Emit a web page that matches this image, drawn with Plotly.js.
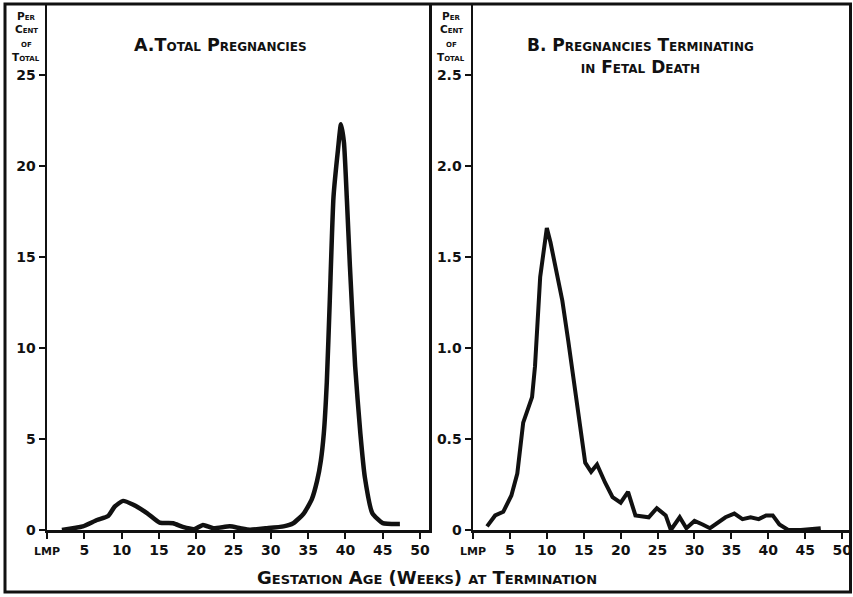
<!DOCTYPE html>
<html>
<head>
<meta charset="utf-8">
<script src="https://cdn.plot.ly/plotly-3.0.1.min.js"></script>
<style>html,body{margin:0;padding:0;background:#fff;}#chart{width:853px;height:597px;}</style>
</head>
<body>
<div id="chart"></div>
<script>
// Panel A: total pregnancies (per cent of total) by gestation week
var weeksA = [2, 4.8, 6.7, 8.2, 9.1, 10.2, 11.5, 13.4, 15.1, 16.9, 18.2, 19.8, 20.9, 22.3, 24.5, 25.9, 27.2, 29.5, 31.7, 33, 34.4, 35.5, 36.2, 36.7, 37.1, 37.5, 37.9, 38.4, 39, 39.4, 39.8, 40.2, 40.6, 41.3, 42, 42.6, 43.6, 45, 47.3];
var pctA = [0, 0.2, 0.55, 0.77, 1.3, 1.6, 1.4, 0.93, 0.4, 0.37, 0.17, 0.05, 0.28, 0.1, 0.2, 0.1, 0.02, 0.1, 0.2, 0.37, 0.9, 1.7, 2.7, 3.8, 5.3, 8.1, 12.6, 18.3, 20.9, 22.3, 21.3, 18.1, 14.5, 9.0, 5.3, 2.9, 0.93, 0.38, 0.33];

// Panel B: pregnancies terminating in fetal death
var weeksB = [1.9, 3.0, 4.1, 5.2, 6.0, 6.8, 8.0, 8.4, 9.1, 9.5, 10.0, 10.5, 11.4, 12.1, 12.9, 13.9, 14.8, 15.2, 16.0, 16.8, 17.9, 18.9, 20.0, 21.0, 22.0, 23.8, 24.9, 26.1, 26.8, 28.0, 28.9, 30.0, 31.1, 32.1, 34.2, 35.4, 36.5, 37.6, 38.7, 39.7, 40.6, 41.5, 42.7, 44.4, 47.1];
var pctB = [0.02, 0.08, 0.10, 0.19, 0.31, 0.59, 0.73, 0.90, 1.39, 1.52, 1.66, 1.58, 1.41, 1.26, 1.04, 0.75, 0.46, 0.37, 0.32, 0.36, 0.26, 0.18, 0.15, 0.21, 0.08, 0.07, 0.12, 0.08, 0.0, 0.07, 0.01, 0.05, 0.03, 0.01, 0.07, 0.09, 0.06, 0.07, 0.06, 0.08, 0.08, 0.03, 0.0, 0.0, 0.01];

// Tick values and labels
var xTickVals = [0, 5, 10, 15, 20, 25, 30, 35, 40, 45, 50];
var xTickLabels = ['LMP', '5', '10', '15', '20', '25', '30', '35', '40', '45', '50'];
var yTickValsA = [0, 5, 10, 15, 20, 25];
var yTickLabelsA = ['0', '5', '10', '15', '20', '25'];
var yTickValsB = [0, 0.5, 1.0, 1.5, 2.0, 2.5];
var yTickLabelsB = ['0', '0.5', '1.0', '1.5', '2.0', '2.5'];

var titleA = 'A.Total Pregnancies';
var titleB = 'B. Pregnancies Terminating<br>in Fetal Death';
var yLabelLines = ['Per', 'Cent', 'of', 'Total'];
var xLabel = 'Gestation Age (Weeks) at Termination';

var INK = '#111111';
var FONT = 'DejaVu Sans, sans-serif';

function fmtX(t) { return t === 'LMP' ? '<span style="font-size:11px">LMP</span>' : t; }

var traces = [
  {x: weeksA, y: pctA, xaxis: 'x', yaxis: 'y', mode: 'lines',
   line: {color: INK, width: 4.5, shape: 'spline', smoothing: 0.5}, hoverinfo: 'skip'},
  {x: weeksB, y: pctB, xaxis: 'x2', yaxis: 'y2', mode: 'lines',
   line: {color: INK, width: 4}, hoverinfo: 'skip'}
];

var tickFont = {family: FONT, size: 14, color: INK, weight: 'bold'};

function xAxis(domain, anchor) {
  return {domain: domain, anchor: anchor, range: [0, 51.2], showgrid: false, zeroline: false,
    showline: true, linecolor: INK, linewidth: 2.5, ticks: 'outside', ticklen: 6, tickwidth: 2,
    tickcolor: INK, tickmode: 'array', tickvals: xTickVals, ticktext: xTickLabels.map(fmtX),
    tickfont: tickFont, fixedrange: true};
}
function yAxis(anchor, range, vals, labels, mirror) {
  return {anchor: anchor, domain: [0, 1], range: range, showgrid: false, zeroline: false,
    showline: true, linecolor: INK, linewidth: 2.5, mirror: mirror, ticks: 'outside', ticklen: 6,
    tickwidth: 2, tickcolor: INK, tickmode: 'array', tickvals: vals, ticktext: labels,
    tickfont: tickFont, fixedrange: true};
}

var W = 853, H = 597, L = 47, R = 2, T = 5, B = 67;
var pw = W - L - R, ph = H - T - B;
function px(x) { return (x - L) / pw; }
function py(y) { return (H - B - y) / ph; }

var annFont = function (s) { return {family: FONT, size: s, color: INK, weight: 'bold', variant: 'small-caps'}; };

var annotations = [
  {xref: 'paper', yref: 'paper', x: px(220), y: py(45), text: titleA, showarrow: false,
   xanchor: 'center', yanchor: 'middle', font: annFont(17.5)},
  {xref: 'paper', yref: 'paper', x: px(640), y: py(56), text: titleB, showarrow: false,
   xanchor: 'center', yanchor: 'middle', font: annFont(17)},
  {xref: 'paper', yref: 'paper', x: px(427), y: py(577), text: xLabel, showarrow: false,
   xanchor: 'center', yanchor: 'middle', font: annFont(18)}
];
var lineYs = [16, 29.5, 43, 56.5];
[26, 451].forEach(function (cx) {
  yLabelLines.forEach(function (word, i) {
    annotations.push({xref: 'paper', yref: 'paper', x: px(cx), y: py(lineYs[i]), text: word,
      showarrow: false, xanchor: 'center', yanchor: 'middle', borderpad: 0, font: annFont(10.5)});
  });
});

var layout = {
  width: W, height: H,
  margin: {l: L, r: R, t: T, b: B},
  paper_bgcolor: '#ffffff', plot_bgcolor: '#ffffff',
  showlegend: false,
  xaxis: xAxis([0, px(429)], 'y'),
  yaxis: yAxis('x', [0, 28.85], yTickValsA, yTickLabelsA, true),
  xaxis2: xAxis([px(473), 1], 'y2'),
  yaxis2: yAxis('x2', [0, 2.885], yTickValsB, yTickLabelsB, false),
  shapes: [
    {type: 'rect', xref: 'paper', yref: 'paper', x0: px(5), x1: px(850.5), y0: py(592), y1: py(4),
     line: {color: INK, width: 3}, fillcolor: 'rgba(0,0,0,0)'}
  ],
  annotations: annotations
};

Plotly.newPlot('chart', traces, layout, {staticPlot: true, displayModeBar: false});
</script>
</body>
</html>
